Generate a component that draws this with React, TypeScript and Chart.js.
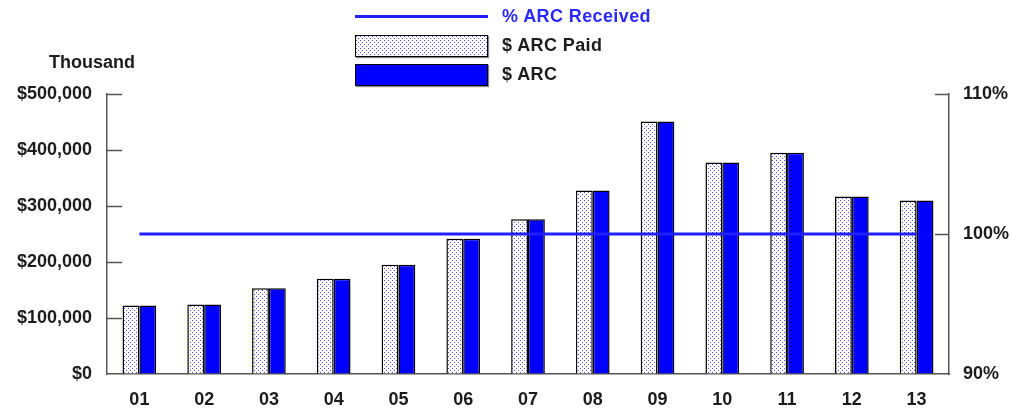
import React, { useEffect, useRef } from "react";
import { Chart, registerables } from "chart.js";

Chart.register(...registerables);

const categories = ["01", "02", "03", "04", "05", "06", "07", "08", "09", "10", "11", "12", "13"];
const arcPaid = [122300, 124100, 153200, 170000, 195000, 241400, 276400, 327700, 450900, 377700, 395000, 317000, 309800];
const arcTotal = [122300, 124100, 153200, 170000, 195000, 241400, 276400, 327700, 450900, 377700, 395000, 317000, 309800];
const pctReceived = [100, 100, 100, 100, 100, 100, 100, 100, 100, 100, 100, 100, 100];
const leftTicks = [0, 100000, 200000, 300000, 400000, 500000];
const rightTicks = [90, 100, 110];

const FONT = "'Liberation Sans', Arial, sans-serif";
const FONT_SIZE = 18;
const AXIS_COLOR = "#555";
const TEXT_COLOR = "#1c1c1c";
const BLUE = "#0000ff";
const LINE_BLUE = "#2020ff";

function makeTile(): HTMLCanvasElement {
  const c = document.createElement("canvas");
  c.width = 4;
  c.height = 4;
  const x = c.getContext("2d")!;
  x.fillStyle = "#ffffff";
  x.fillRect(0, 0, 4, 4);
  x.fillStyle = "#4a4aff";
  x.fillRect(0, 0, 1, 1);
  x.fillRect(2, 2, 1, 1);
  return c;
}

const innerTicks = {
  id: "innerTicks",
  afterDatasetsDraw(chart: any) {
    const ctx = chart.ctx;
    const y = chart.scales.y;
    const y1 = chart.scales.y1;
    ctx.save();
    ctx.strokeStyle = AXIS_COLOR;
    ctx.lineWidth = 1.5;
    leftTicks.forEach((v) => {
      if (v === 0) return;
      const p = Math.round(y.getPixelForValue(v)) + 0.5;
      ctx.beginPath();
      ctx.moveTo(y.right, p);
      ctx.lineTo(y.right + 15, p);
      ctx.stroke();
    });
    rightTicks.forEach((v) => {
      if (v === 90) return;
      const p = Math.round(y1.getPixelForValue(v)) + 0.5;
      ctx.beginPath();
      ctx.moveTo(y1.left, p);
      ctx.lineTo(y1.left - 14, p);
      ctx.stroke();
    });
    ctx.font = `bold ${FONT_SIZE}px ${FONT}`;
    ctx.fillStyle = TEXT_COLOR;
    ctx.textAlign = "center";
    ctx.textBaseline = "middle";
    ctx.fillText("Thousand", 92, 63);
    ctx.restore();
  },
};

export default function App() {
  const canvasRef = useRef<HTMLCanvasElement | null>(null);
  const boxRef = useRef<HTMLDivElement | null>(null);

  useEffect(() => {
    const tile = makeTile();
    if (boxRef.current) {
      boxRef.current.style.backgroundImage = `url(${tile.toDataURL()})`;
    }
    const ctx = canvasRef.current!.getContext("2d")!;
    const pattern = ctx.createPattern(tile, "repeat")!;
    const tickFont = { family: FONT, size: FONT_SIZE, weight: "bold" as const };
    const chart = new Chart(ctx, {
      type: "bar",
      data: {
        labels: categories,
        datasets: [
          {
            type: "line",
            label: "% ARC Received",
            data: pctReceived,
            yAxisID: "y1",
            borderColor: LINE_BLUE,
            borderWidth: 3,
            pointRadius: 0,
            fill: false,
            order: 0,
          } as any,
          {
            label: "$ ARC Paid",
            data: arcPaid,
            yAxisID: "y",
            backgroundColor: pattern as any,
            borderColor: "#000",
            borderWidth: 1.5,
            order: 1,
            categoryPercentage: 0.52,
            barPercentage: 1,
          },
          {
            label: "$ ARC",
            data: arcTotal,
            yAxisID: "y",
            backgroundColor: BLUE,
            borderColor: "#000",
            borderWidth: 1.5,
            order: 1,
            categoryPercentage: 0.52,
            barPercentage: 1,
          },
        ],
      },
      options: {
        responsive: false,
        animation: false,
        layout: { padding: { top: 94, left: 0, right: 0, bottom: 0 } },
        plugins: { legend: { display: false }, tooltip: { enabled: false } },
        scales: {
          x: {
            grid: { display: true, drawOnChartArea: false, drawTicks: false },
            border: { display: true, color: AXIS_COLOR, width: 1.5 },
            ticks: { color: TEXT_COLOR, font: tickFont, padding: 15 },
            afterFit: (s: any) => { s.height = 36; },
          },
          y: {
            position: "left",
            min: 0,
            max: 500000,
            afterBuildTicks: (s: any) => { s.ticks = leftTicks.map((v) => ({ value: v })); },
            grid: { display: true, drawOnChartArea: false, drawTicks: false },
            border: { display: true, color: AXIS_COLOR, width: 1.5 },
            ticks: {
              color: TEXT_COLOR,
              font: tickFont,
              padding: 15,
              callback: (v: any) => "$" + Number(v).toLocaleString("en-US"),
            },
            afterFit: (s: any) => { s.width = 107; },
          },
          y1: {
            position: "right",
            min: 90,
            max: 110,
            afterBuildTicks: (s: any) => { s.ticks = rightTicks.map((v) => ({ value: v })); },
            grid: { display: true, drawOnChartArea: false, drawTicks: false },
            border: { display: true, color: AXIS_COLOR, width: 1.5 },
            ticks: {
              color: TEXT_COLOR,
              font: tickFont,
              padding: 14,
              callback: (v: any) => v + "%",
            },
            afterFit: (s: any) => { s.width = 64; },
          },
        },
      },
      plugins: [innerTicks],
    });
    return () => chart.destroy();
  }, []);

  const textStyle: React.CSSProperties = {
    position: "absolute",
    left: 502,
    font: `bold ${FONT_SIZE}px ${FONT}`,
    lineHeight: "20px",
    letterSpacing: "0.4px",
    color: TEXT_COLOR,
    whiteSpace: "nowrap",
  };

  return (
    <div style={{ position: "absolute", left: 0, top: 0, width: 1013, height: 410, background: "#fff" }}>
      <canvas ref={canvasRef} width={1013} height={410} style={{ position: "absolute", left: 0, top: 0 }} />
      <div style={{ position: "absolute", left: 355, top: 15, width: 133, height: 3, background: LINE_BLUE }} />
      <div style={{ ...textStyle, top: 6, color: "#2a2aff" }}>% ARC Received</div>
      <div
        ref={boxRef}
        style={{ position: "absolute", left: 355, top: 35, width: 131, height: 20, border: "1.5px solid #000", boxShadow: "1px 1px 1px #888" }}
      />
      <div style={{ ...textStyle, top: 35 }}>$ ARC Paid</div>
      <div
        style={{ position: "absolute", left: 355, top: 64, width: 131, height: 20, border: "1.5px solid #000", background: BLUE, boxShadow: "1px 1px 1px #888" }}
      />
      <div style={{ ...textStyle, top: 64 }}>$ ARC</div>
    </div>
  );
}
